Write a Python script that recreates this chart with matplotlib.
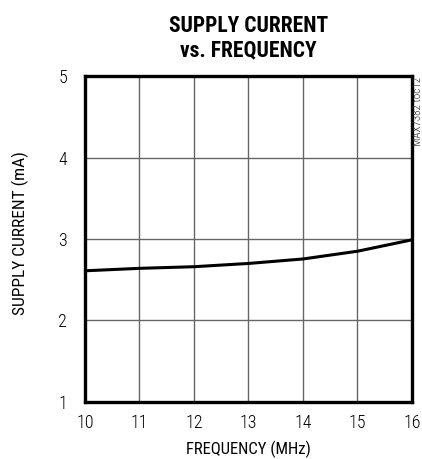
import matplotlib
matplotlib.use('Agg')
import matplotlib.pyplot as plt

# supply current vs frequency
freq = [10, 11, 12, 13, 14, 15, 16]
current = [2.61, 2.64, 2.66, 2.70, 2.755, 2.85, 2.99]
xticks = [10, 11, 12, 13, 14, 15, 16]
yticks = [1, 2, 3, 4, 5]

plt.rcParams['font.family'] = ['Roboto Condensed', 'DejaVu Sans']
plt.rcParams['font.weight'] = 'light'

fig = plt.figure(figsize=(4.22, 4.59), dpi=100)
ax = fig.add_axes([0.2014, 0.1242, 0.7749, 0.7102])

ax.plot(freq, current, color='black', linewidth=2.2, solid_capstyle='butt')

ax.set_xlim(10, 16)
ax.set_ylim(1, 5)
ax.set_xticks(xticks)
ax.set_yticks(yticks)
ax.tick_params(length=0, labelsize=13)
ax.tick_params(axis='x', pad=9)
ax.tick_params(axis='y', pad=13)
ax.grid(True, color='#666666', linewidth=1.0)
for s in ax.spines.values():
    s.set_linewidth(2.4)
    s.set_color('black')

ax.set_xlabel('FREQUENCY (MHz)', fontsize=12, labelpad=6)
ax.set_ylabel('SUPPLY CURRENT (mA)', fontsize=12.5)
ax.yaxis.set_label_coords(-0.17, 0.518)

fig.text(0.588, 0.917, 'SUPPLY CURRENT\nvs. FREQUENCY', ha='center', va='center',
         fontsize=15.5, fontweight='bold', linespacing=1.15)
fig.text(0.991, 0.833, 'MAX7382 toc12', rotation=90, ha='center', va='top',
         fontsize=8, color='#222222')

fig.savefig('out.png', dpi=100)
